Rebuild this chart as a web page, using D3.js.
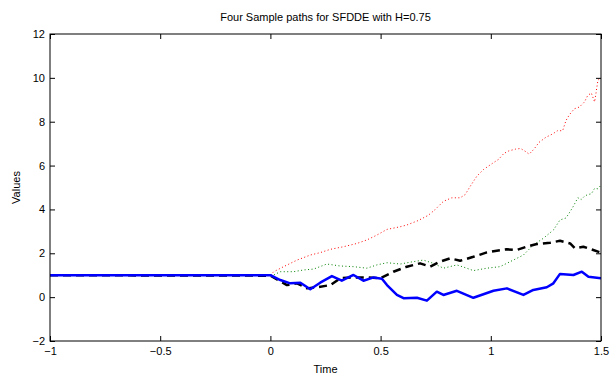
<!DOCTYPE html>
<html>
<head>
<meta charset="utf-8">
<script src="https://cdn.jsdelivr.net/npm/d3@7"></script>
<style>
  body { margin: 0; background: #fff; }
  svg text { font-family: "Liberation Sans", Arial, Helvetica, sans-serif; fill: #000; }
</style>
</head>
<body>
<div id="chart"></div>
<script>
// values (history is 1 on [-1, 0])
const redTime = [-1, 0, 0.015, 0.06, 0.121, 0.181, 0.226, 0.272, 0.332, 0.393, 0.438, 0.483, 0.529, 0.589, 0.619, 0.67, 0.716, 0.747, 0.785, 0.823, 0.861, 0.884, 0.907, 0.937, 0.968, 1.006, 1.036, 1.059, 1.082, 1.112, 1.135, 1.158, 1.174, 1.196, 1.219, 1.25, 1.28, 1.303, 1.326, 1.341, 1.356, 1.379, 1.402, 1.425, 1.44, 1.456, 1.471, 1.478, 1.486, 1.5];
const redValues = [1, 1, 1.16, 1.39, 1.69, 1.92, 2.03, 2.18, 2.30, 2.45, 2.61, 2.83, 3.09, 3.21, 3.29, 3.49, 3.73, 3.99, 4.37, 4.53, 4.53, 4.68, 5.06, 5.52, 5.83, 6.09, 6.29, 6.55, 6.67, 6.75, 6.78, 6.64, 6.52, 6.75, 7.06, 7.29, 7.44, 7.59, 7.59, 8.05, 8.31, 8.59, 8.67, 8.90, 9.20, 9.31, 8.90, 9.35, 9.89, 10.02];

const greenTime = [-1, 0, 0.015, 0.045, 0.105, 0.151, 0.196, 0.256, 0.317, 0.377, 0.438, 0.483, 0.529, 0.589, 0.649, 0.694, 0.74, 0.785, 0.846, 0.891, 0.921, 0.982, 1.042, 1.102, 1.148, 1.193, 1.238, 1.284, 1.314, 1.341, 1.356, 1.372, 1.395, 1.41, 1.425, 1.44, 1.456, 1.471, 1.486, 1.5];
const greenValues = [1, 1, 1.01, 1.16, 1.16, 1.24, 1.28, 1.51, 1.42, 1.39, 1.32, 1.47, 1.57, 1.51, 1.62, 1.69, 1.54, 1.32, 1.47, 1.32, 1.21, 1.32, 1.39, 1.69, 1.92, 2.38, 2.68, 3.06, 3.52, 3.61, 3.84, 4.10, 4.53, 4.45, 4.60, 4.68, 4.71, 4.96, 4.94, 5.11];

const blackTime = [-1, 0, 0.03, 0.075, 0.121, 0.166, 0.211, 0.272, 0.317, 0.377, 0.438, 0.498, 0.558, 0.619, 0.679, 0.725, 0.77, 0.815, 0.861, 0.921, 0.982, 1.027, 1.073, 1.118, 1.163, 1.209, 1.269, 1.314, 1.36, 1.382, 1.42, 1.465, 1.5];
const blackValues = [1, 0.98, 0.81, 0.55, 0.63, 0.40, 0.45, 0.55, 0.86, 0.90, 0.90, 0.86, 1.16, 1.39, 1.54, 1.39, 1.62, 1.77, 1.66, 1.84, 2.04, 2.12, 2.18, 2.15, 2.30, 2.42, 2.48, 2.57, 2.45, 2.23, 2.30, 2.15, 2.03];

const blueTime = [-1, 0, 0.045, 0.09, 0.136, 0.181, 0.226, 0.279, 0.324, 0.377, 0.422, 0.468, 0.506, 0.529, 0.574, 0.604, 0.665, 0.71, 0.755, 0.785, 0.846, 0.921, 1.012, 1.073, 1.148, 1.193, 1.254, 1.284, 1.314, 1.375, 1.413, 1.443, 1.5];
const blueValues = [1, 1, 0.78, 0.63, 0.66, 0.36, 0.66, 0.96, 0.75, 1.01, 0.75, 0.90, 0.84, 0.55, 0.10, -0.05, -0.03, -0.16, 0.25, 0.10, 0.29, -0.03, 0.29, 0.40, 0.10, 0.33, 0.45, 0.63, 1.06, 1.01, 1.16, 0.93, 0.86];

const xTicks = [-1, -0.5, 0, 0.5, 1, 1.5];
const yTicks = [-2, 0, 2, 4, 6, 8, 10, 12];

const series = [
  { time: redTime, values: redValues, color: "#ff0000", width: 1, dash: "1,2.5" },
  { time: greenTime, values: greenValues, color: "#008000", width: 1, dash: "1,2.5" },
  { time: blackTime, values: blackValues, color: "#000000", width: 2.5, dash: "8,5" },
  { time: blueTime, values: blueValues, color: "#0000ff", width: 2.5, dash: null }
];

const width = 611, height = 375;
const margin = { top: 34, right: 10, bottom: 34, left: 50 };
const innerW = width - margin.left - margin.right;
const innerH = height - margin.top - margin.bottom;

const svg = d3.select("#chart").append("svg")
  .attr("width", width)
  .attr("height", height);

const g = svg.append("g")
  .attr("transform", `translate(${margin.left},${margin.top})`);

const x = d3.scaleLinear().domain([-1, 1.5]).range([0, innerW]);
const y = d3.scaleLinear().domain([-2, 12]).range([innerH, 0]);

g.append("defs").append("clipPath").attr("id", "clip")
  .append("rect").attr("width", innerW).attr("height", innerH);

const line = d3.line()
  .x(d => x(d[0]))
  .y(d => y(d[1]));

const plot = g.append("g").attr("clip-path", "url(#clip)");
series.forEach(s => {
  plot.append("path")
    .datum(s.time.map((t, i) => [t, s.values[i]]))
    .attr("d", line)
    .attr("fill", "none")
    .attr("stroke", s.color)
    .attr("stroke-width", s.width)
    .attr("stroke-dasharray", s.dash)
    .attr("stroke-linejoin", "round");
});

// matlab style axes: inward ticks on all four sides
const fmt = d3.format("");
const tickLen = 5;

g.append("g")
  .attr("transform", `translate(0,${innerH})`)
  .call(d3.axisBottom(x).tickValues(xTicks).tickFormat(fmt).tickSizeInner(-tickLen).tickSizeOuter(0).tickPadding(6));
g.append("g")
  .call(d3.axisTop(x).tickValues(xTicks).tickFormat("").tickSizeInner(-tickLen).tickSizeOuter(0));
g.append("g")
  .call(d3.axisLeft(y).tickValues(yTicks).tickFormat(fmt).tickSizeInner(-tickLen).tickSizeOuter(0).tickPadding(5));
g.append("g")
  .attr("transform", `translate(${innerW},0)`)
  .call(d3.axisRight(y).tickValues(yTicks).tickFormat("").tickSizeInner(-tickLen).tickSizeOuter(0));

g.selectAll(".domain").remove();
g.selectAll(".tick line").attr("stroke", "#000");
g.selectAll(".tick text").attr("font-size", 11);

g.append("rect")
  .attr("width", innerW)
  .attr("height", innerH)
  .attr("fill", "none")
  .attr("stroke", "#000")
  .attr("stroke-width", 1);

svg.append("text")
  .attr("x", margin.left + innerW / 2)
  .attr("y", 21)
  .attr("text-anchor", "middle")
  .attr("font-size", 11)
  .text("Four Sample paths for SFDDE with H=0.75");

svg.append("text")
  .attr("x", margin.left + innerW / 2)
  .attr("y", 373)
  .attr("text-anchor", "middle")
  .attr("font-size", 11)
  .text("Time");

svg.append("text")
  .attr("transform", `translate(20,${margin.top + innerH / 2}) rotate(-90)`)
  .attr("text-anchor", "middle")
  .attr("font-size", 11)
  .text("Values");
</script>
</body>
</html>
